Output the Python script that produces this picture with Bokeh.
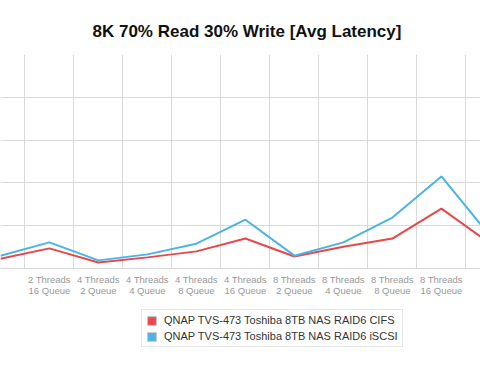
from bokeh.plotting import figure
from bokeh.layouts import column
from bokeh.models import FixedTicker, Legend, LegendItem, Range1d
from bokeh.embed import file_html
from bokeh.resources import INLINE

categories = ["2 Threads\n8 Queue", "2 Threads\n16 Queue", "4 Threads\n2 Queue", "4 Threads\n4 Queue",
              "4 Threads\n8 Queue", "4 Threads\n16 Queue", "8 Threads\n2 Queue", "8 Threads\n4 Queue",
              "8 Threads\n8 Queue", "8 Threads\n16 Queue", "16 Threads\n2 Queue"]
cifs = [2.3, 4.7, 1.4, 2.6, 4.0, 7.0, 2.8, 5.1, 7.0, 14.0, 5.8]
iscsi = [3.0, 6.1, 1.9, 3.3, 5.8, 11.4, 3.0, 6.1, 11.9, 21.5, 7.5]
series_names = ["QNAP TVS-473 Toshiba 8TB NAS RAID6 CIFS", "QNAP TVS-473 Toshiba 8TB NAS RAID6 iSCSI"]
series_colors = ["#e8474c", "#4ab4e6"]
y_ticks = [0, 10, 20, 30, 40, 50]

xs = list(range(len(categories)))
nan = float("nan")

p = figure(width=480, height=306, output_backend="svg", toolbar_location=None,
           x_range=Range1d(0.002, 9.798), y_range=Range1d(0, 50),
           min_border_left=0, min_border_right=0, min_border_top=54, min_border_bottom=38)
p.outline_line_color = None
p.background_fill_color = "white"
p.border_fill_color = "white"

p.title.text = "8K 70% Read 30% Write [Avg Latency]"
p.title.align = "left"
p.title.offset = 92
p.title.standoff = 27
p.title.text_font = "Liberation Sans"
p.title.text_font_size = "17px"
p.title.text_font_style = "bold"
p.title.text_color = "#111111"

p.line(xs, cifs, line_color=series_colors[0], line_width=2)
p.line(xs, iscsi, line_color=series_colors[1], line_width=2)

p.xaxis.ticker = FixedTicker(ticks=xs)
p.xaxis.major_label_overrides = {i: c for i, c in enumerate(categories)}
p.xaxis.major_label_text_font = "Liberation Sans"
p.xaxis.major_label_text_font_size = "9.5px"
p.xaxis.major_label_text_color = "#999999"
p.xaxis.major_label_text_line_height = 1.0
p.xaxis.major_tick_line_color = None
p.xaxis.major_tick_out = 0
p.xaxis.major_tick_in = 0
p.xaxis.minor_tick_line_color = None
p.xaxis.minor_tick_out = 0
p.xaxis.axis_line_color = "#d9d9d9"
p.xaxis.major_label_standoff = 5

p.yaxis.visible = False
p.ygrid.ticker = FixedTicker(ticks=y_ticks)
p.xgrid.ticker = FixedTicker(ticks=[i + 0.5 for i in xs])
p.xgrid.grid_line_color = "#d9d9d9"
p.ygrid.grid_line_color = "#d9d9d9"

# legend panel
p2 = figure(width=480, height=66, output_backend="svg", toolbar_location=None,
            x_range=Range1d(0, 1), y_range=Range1d(0, 1), x_axis_type=None, y_axis_type=None,
            min_border=0)
p2.outline_line_color = None
p2.xgrid.visible = False
p2.ygrid.visible = False
k1 = p2.quad(left=[nan], right=[nan], top=[nan], bottom=[nan],
             fill_color=series_colors[0], line_color="#c8c8c8")
k2 = p2.quad(left=[nan], right=[nan], top=[nan], bottom=[nan],
             fill_color=series_colors[1], line_color="#c8c8c8")

legend = Legend(items=[LegendItem(label=series_names[0], renderers=[k1]),
                       LegendItem(label=series_names[1], renderers=[k2])],
                location=(141, 25), orientation="vertical",
                label_text_font="Liberation Sans", label_text_font_size="11px",
                label_text_color="#333333", border_line_color="#cccccc",
                glyph_width=11, glyph_height=11, label_height=12, label_standoff=7,
                spacing=4, padding=4, margin=0, background_fill_alpha=1)
p2.add_layout(legend)

layout = column(p, p2, spacing=0)
open("out.html", "w").write(file_html(layout, INLINE))
